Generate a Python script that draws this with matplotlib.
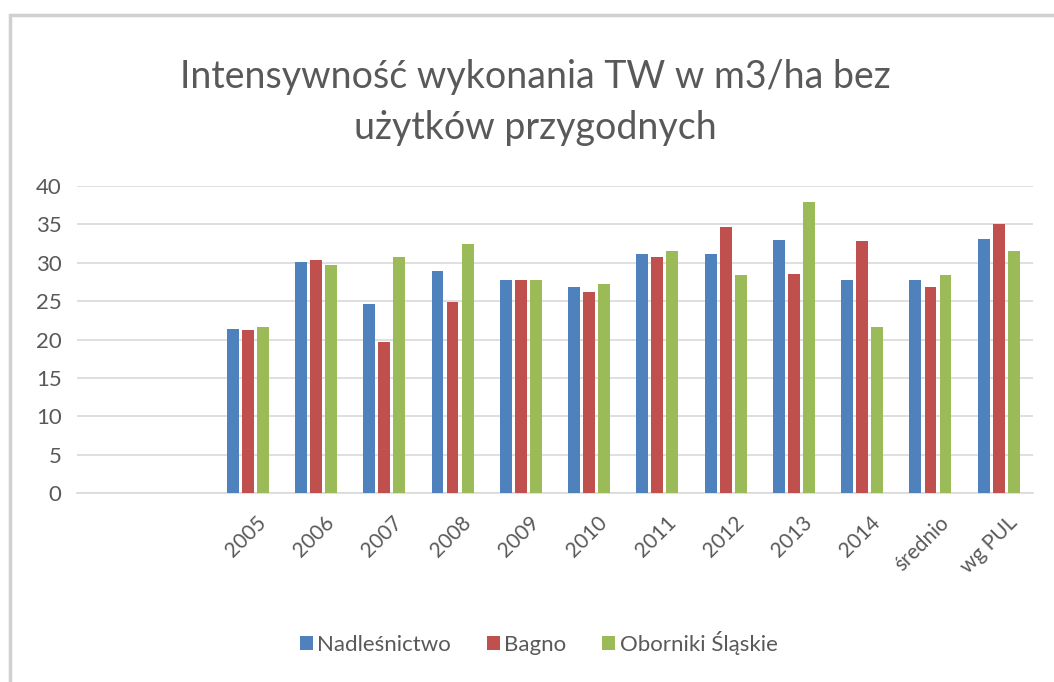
import numpy as np
import matplotlib
matplotlib.use("Agg")
import matplotlib.pyplot as plt
from matplotlib.patches import Rectangle

plt.rcParams['font.family'] = ['Lato', 'DejaVu Sans']

# two empty leading categories, as in the source chart
categories = ['', '', '2005', '2006', '2007', '2008', '2009', '2010', '2011',
              '2012', '2013', '2014', 'średnio', 'wg PUL']
nadlesnictwo = [np.nan, np.nan, 21.4, 30.1, 24.7, 28.9, 27.8, 26.9, 31.2,
                31.2, 33.0, 27.7, 27.7, 33.1]
bagno = [np.nan, np.nan, 21.2, 30.4, 19.7, 24.9, 27.8, 26.2, 30.8,
         34.7, 28.6, 32.8, 26.9, 35.1]
oborniki = [np.nan, np.nan, 21.7, 29.7, 30.8, 32.4, 27.8, 27.2, 31.6,
            28.4, 37.9, 21.6, 28.4, 31.6]
series_names = ['Nadleśnictwo', 'Bagno', 'Oborniki Śląskie']
colors = ['#4F81BD', '#C0504D', '#9BBB59']

fig = plt.figure(figsize=(10.54, 6.82), dpi=100)
ax = fig.add_axes([0.073, 0.2767, 0.907, 0.4506])

# chart frame
fig.patches.append(Rectangle((10/1054, -0.01), 1.05, 1 - 15/682 + 0.01,
                             transform=fig.transFigure, fill=False,
                             edgecolor='#D0D0D0', linewidth=2.5))

x = np.arange(len(categories))
w = 0.175
step = 0.22
for i, (vals, name, c) in enumerate(zip([nadlesnictwo, bagno, oborniki], series_names, colors)):
    ax.bar(x + (i - 1) * step, vals, width=w, color=c, label=name, zorder=3)

ax.set_xlim(-0.5, len(categories) - 0.5)
ax.set_ylim(0, 40)
ax.set_yticks(range(0, 41, 5))
ax.yaxis.grid(True, color='#D9D9D9', linewidth=1.2, zorder=0)
for s in ['top', 'right', 'left']:
    ax.spines[s].set_visible(False)
ax.spines['bottom'].set_color('#D9D9D9')
ax.spines['bottom'].set_linewidth(1.2)
ax.tick_params(axis='both', length=0, colors='#595959', labelsize=16)
ax.tick_params(axis='y', pad=11)
ax.tick_params(axis='x', labelsize=15, pad=14)

# labels anchored slightly right of the group centre, like the Excel original
ax.set_xticks(x + 0.12)
ax.set_xticklabels(categories, rotation=45, ha='right', va='top', rotation_mode='anchor')

fig.text(0.508, 0.85, 'Intensywność wykonania TW w m3/ha bez\nużytków przygodnych',
         ha='center', va='center', fontsize=27, color='#595959', linespacing=1.5)

leg = ax.legend(loc='center', bbox_to_anchor=(0.483, -0.487),
                bbox_transform=ax.transAxes, ncol=3, frameon=False, fontsize=16,
                handlelength=0.6, handleheight=0.6, handletextpad=0.2, columnspacing=1.6)
for t in leg.get_texts():
    t.set_color('#595959')

fig.savefig('out.png', dpi=100)
